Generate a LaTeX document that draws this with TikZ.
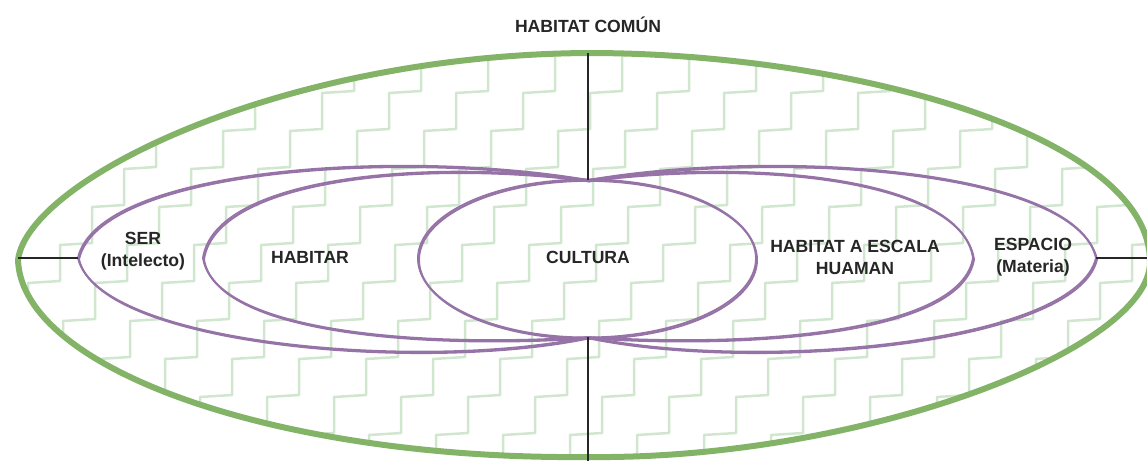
\documentclass[tikz,border=0pt]{standalone}
\usepackage{fontspec}
\setmainfont{Liberation Sans}
\definecolor{gstroke}{HTML}{82B366}
\definecolor{gfill}{HTML}{D0E6CF}
\definecolor{pur}{HTML}{9673A6}
\begin{document}
\begin{tikzpicture}[x=1pt,y=-1pt,
  lbl/.style={font=\fontsize{17.6}{22}\selectfont\bfseries, text=black!85, align=center, inner sep=0pt},
  lobe/.style={draw=pur, line width=1.9pt},
  axisline/.style={draw=black!85, line width=1.1pt},
  hatch/.style={draw=gfill, line width=2.5pt, line join=round},
  rim/.style={draw=gstroke, line width=6pt}]
\useasboundingbox (0,0) rectangle (1147,461);
% zigzag fill clipped to the outer shape
\begin{scope}
\clip (18,260) .. controls (28,180) and (280,55) .. (588,53) .. controls (850,53) and (1150,135) .. (1150,262) .. controls (1150,350) and (860,460) .. (588,457) .. controls (280,460) and (22,370) .. cycle;
\foreach \i in {0,...,25}{
  \draw[hatch] (-435+67*\i,471) \foreach \k in {1,...,13}{ -- ++(0,-36) -- ++(32,-2) };
}
\end{scope}
% outer green shape
\draw[rim] (18,260) .. controls (28,180) and (280,55) .. (588,53) .. controls (850,53) and (1150,135) .. (1150,262) .. controls (1150,350) and (860,460) .. (588,457) .. controls (280,460) and (22,370) .. cycle;
% named points
\coordinate (gtop) at (588,53);
\coordinate (gbot) at (588,461);
\coordinate (gleft) at (18,258);
\coordinate (gright) at (1147,258);
\coordinate (ctop) at (588,180);
\coordinate (cbot) at (588,337);
\coordinate (sertip) at (78,258);
\coordinate (esptip) at (1096,258);
% purple lobes (two passes for sketchy look)
\foreach \dx/\dy in {0/0, 1/1.4}{
\begin{scope}[shift={(\dx,\dy)}]
\draw[lobe] (588,180) .. controls (400,148) and (98,168) .. (78,258) .. controls (98,344) and (420,372) .. (588,337);
\draw[lobe] (588,180) .. controls (420,158) and (215,178) .. (203,258) .. controls (215,332) and (420,348) .. (588,337);
\draw[lobe] (588,180) .. controls (756,158) and (961,178) .. (973,258) .. controls (961,332) and (756,348) .. (588,337);
\draw[lobe] (588,180) .. controls (776,148) and (1076,168) .. (1096,258) .. controls (1076,344) and (756,372) .. (588,337);
\draw[lobe] (587,258.5) ellipse [x radius=169pt, y radius=79pt];
\end{scope}
}
% black axis lines
\draw[axisline] (gtop) -- (ctop);
\draw[axisline] (cbot) -- (gbot);
\draw[axisline] (gleft) -- (sertip);
\draw[axisline] (esptip) -- (gright);
% labels
\node[lbl] (comun) at (588,25) {HABITAT COMÚN};
\node[lbl] (ser) at (143,251) {SER\\(Intelecto)};
\node[lbl] (habitar) at (310,257) {HABITAR};
\node[lbl] (cultura) at (588,257) {CULTURA};
\node[lbl] (escala) at (855,257) {HABITAT A ESCALA\\HUAMAN};
\node[lbl] (espacio) at (1033,257) {ESPACIO\\(Materia)};
\end{tikzpicture}
\end{document}
